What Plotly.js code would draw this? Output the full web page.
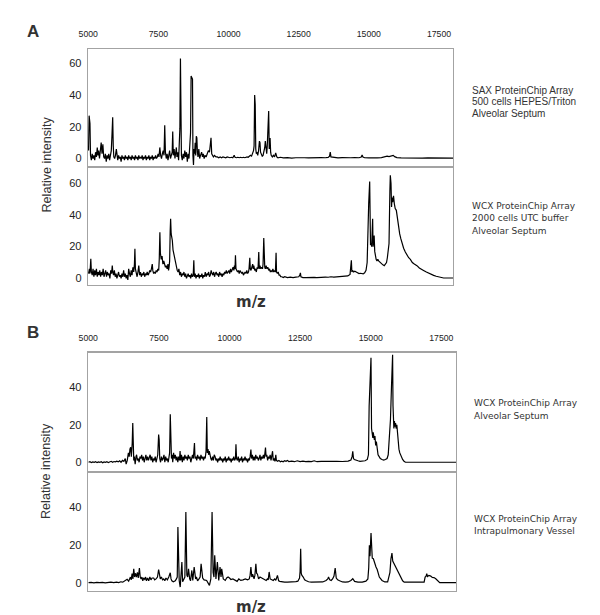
<!DOCTYPE html>
<html>
<head>
<meta charset="utf-8">
<script src="https://cdn.plot.ly/plotly-3.0.1.min.js"></script>
<style>
html,body{margin:0;padding:0;background:#fff;}
#chart{width:600px;height:615px;}
</style>
</head>
<body>
<div id="chart"></div>
<script>
// ---- tick labels ----
const mzTicks = [5000, 7500, 10000, 12500, 15000, 17500];
const intTicksA = [0, 20, 40, 60];
const intTicksB = [0, 20, 40];

// ---- Panel A, SAX ProteinChip Array (500 cells HEPES/Triton, Alveolar Septum) ----
const a1Mz = [
 5010,5030,5060,5080,5110,5140,5170,5200,5230,5260,
 5290,5320,5345,5370,5400,5430,5460,5490,5520,5550,
 5580,5610,5640,5670,5700,5730,5760,5790,5820,5845,
 5870,5890,5910,5940,5970,6000,6020,6050,6080,6110,
 6140,6170,6200,6230,6260,6290,6320,6350,6380,6410,
 6440,6470,6500,6530,6560,6590,6620,6650,6680,6710,
 6740,6770,6800,6830,6860,6890,6920,6950,6980,7010,
 7040,7070,7100,7130,7160,7190,7220,7250,7280,7310,
 7340,7370,7400,7430,7460,7490,7520,7550,7580,7610,
 7640,7670,7700,7725,7750,7780,7810,7840,7870,7900,
 7930,7960,7990,8010,8030,8060,8090,8110,8140,8160,
 8190,8220,8250,8265,8285,8300,8320,8350,8380,8410,
 8440,8470,8500,8530,8560,8590,8620,8645,8665,8690,
 8715,8730,8750,8770,8790,8810,8830,8850,8870,8890,
 8910,8940,8970,9000,9040,9070,9100,9130,9160,9200,
 9240,9280,9320,9350,9375,9400,9430,9460,9500,9550,
 9600,9650,9700,9750,9800,9850,9900,9950,10000,10050,
 10100,10150,10200,10230,10280,10330,10380,10430,10480,10530,
 10580,10620,10660,10700,10740,10780,10820,10860,10890,10910,
 10930,10950,10970,10990,11010,11040,11070,11100,11120,11140,
 11170,11200,11230,11260,11290,11310,11330,11360,11380,11400,
 11430,11450,11480,11500,11520,11560,11600,11640,11680,11720,
 11760,11850,11950,12100,12250,12400,12550,12700,12850,13000,
 13150,13300,13450,13550,13600,13625,13650,13750,13900,14050,
 14200,14350,14500,14650,14730,14760,14790,14850,15000,15150,
 15300,15450,15550,15650,15720,15800,15870,15920,16000,16150,
 16300,16500,16700,16900,17100,17300,17500,17700,17900,18050
];
const a1Int = [
 5,27,22,2,-1,3,0,2,-1,4,
 1,7,2,5,0,8,10,3,9,1,
 0,3,-2,2,0,3,-1,2,5,15,
 26,8,1,0,2,6,1,-1,2,0,
 1,-2,2,0,1,-1,2,0,1,-1,
 2,0,1,-1,2,0,1,-1,2,0,
 1,-1,2,0,1,0,2,-1,1,0,
 2,-1,1,0,2,-1,1,0,2,-1,
 1,0,2,0,1,3,1,7,2,0,
 3,5,2,21,4,0,3,-1,2,5,
 0,2,4,17,2,6,0,3,7,1,
 4,-1,8,19,63,5,2,-1,3,0,
 5,1,4,-2,3,0,7,16,52,50,
 50,2,-4,6,3,10,2,14,13,4,
 1,6,0,2,4,1,3,0,2,1,
 3,5,4,8,13,3,2,1,2,1,
 1,0.5,1,0.5,1,0.5,0.5,1,0.5,0.5,
 0.8,0.5,2,0.8,0.5,0.8,0.5,0.8,0.5,0.8,
 0.5,0.8,1,0.8,1.5,2,1.5,3,5,8,
 40,34,6,3,4,2,5,11,10,4,
 2,1.5,2,4,7,11,5,3,8,14,
 30,6,13,4,2,1,2,1,3.5,1,
 0.5,0.8,0.4,0.6,0.3,0.5,0.3,0.5,0.4,0.6,
 0.4,0.6,0.5,0.7,1.5,4,1,0.6,0.4,0.6,
 0.4,0.5,0.6,0.5,1,2.2,1,0.5,0.4,0.3,
 0.4,0.6,1,1.5,1.2,1.4,2,1.2,0.6,0.4,
 0.3,0.4,0.3,0.3,0.4,0.3,0.3,0.3,0.3,0.3
];

// ---- Panel A, WCX ProteinChip Array (2000 cells UTC buffer, Alveolar Septum) ----
const a2Mz = [
 5010,5040,5060,5090,5110,5140,5170,5200,5230,5260,
 5290,5320,5350,5380,5410,5440,5470,5500,5530,5560,
 5590,5620,5650,5680,5710,5740,5770,5800,5830,5855,
 5875,5900,5930,5960,5990,6020,6050,6080,6110,6140,
 6170,6200,6230,6260,6290,6320,6350,6380,6410,6440,
 6470,6500,6530,6560,6590,6620,6645,6662,6680,6710,
 6740,6770,6800,6830,6860,6890,6920,6950,6980,7010,
 7040,7070,7100,7130,7160,7190,7220,7250,7280,7300,
 7330,7360,7390,7420,7450,7480,7510,7530,7552,7570,
 7600,7630,7660,7690,7720,7750,7780,7810,7840,7860,
 7880,7900,7920,7935,7955,7975,7995,8020,8050,8080,
 8110,8140,8170,8200,8230,8260,8290,8320,8350,8380,
 8410,8440,8470,8500,8530,8560,8590,8620,8650,8680,
 8710,8740,8762,8780,8810,8840,8870,8900,8930,8960,
 8990,9020,9050,9080,9110,9140,9170,9200,9230,9260,
 9290,9320,9350,9380,9410,9440,9470,9500,9530,9560,
 9590,9620,9650,9680,9710,9740,9770,9800,9830,9860,
 9890,9920,9950,9980,10010,10040,10070,10100,10130,10160,
 10190,10210,10230,10246,10265,10290,10320,10350,10380,10410,
 10440,10470,10500,10530,10560,10590,10620,10650,10680,10710,
 10730,10757,10775,10800,10830,10860,10880,10900,10930,10960,
 10990,11020,11050,11077,11095,11120,11150,11180,11210,11230,
 11255,11270,11290,11310,11340,11370,11400,11430,11460,11490,
 11520,11550,11580,11610,11640,11670,11694,11710,11740,11770,
 11800,11830,11860,11900,11950,12000,12100,12200,12300,12400,
 12500,12540,12561,12580,12650,12750,12850,12950,13050,13150,
 13250,13350,13450,13550,13650,13750,13850,13950,14050,14150,
 14250,14330,14360,14377,14395,14420,14460,14500,14550,14600,
 14650,14700,14750,14800,14850,14900,14940,14975,14995,15030,
 15045,15060,15080,15100,15120,15136,15150,15170,15190,15210,
 15230,15260,15290,15320,15350,15400,15450,15500,15550,15590,
 15630,15660,15690,15720,15750,15766,15790,15810,15825,15850,
 15880,15910,15940,15980,16020,16060,16100,16140,16182,16240,
 16300,16360,16420,16480,16550,16620,16715,16800,16880,16950,
 17050,17150,17250,17310,17400,17500,17600,17665,17800,18050
];
const a2Int = [
 3,6,3,12.4,4,2,6,1,5,2,
 6,1,4,2,5,1,4,2,6,1,
 3,5,1,4,2,3,0,5,3,8,
 4,2,5,1,3,0,2,4,1,2,
 0,3,1,5,1,3,0,2,-1,6,
 3,1,5,2,7,4,9,18.7,6,3,
 1,4,8,2,4,1,3,2,4,1,
 3,2,4,2,3,5,4,6,9,5,
 3,4,3,5,4,6,5,12,29,16,
 12,14,9,11,8,7,8,6,9,5,
 7,11,30,37.6,28,26,24,18,15,12,
 9,7,5,4,6,2,4,1,3,2,
 4,1,3,0,2,3,1,2,0,3,
 1,2,11.4,1,3,0,2,1,3,0,
 2,1,3,0,2,1,4,1,3,2,
 4,1,2,5,3,2,4,1,3,4,
 2,3,1,4,2,3,1,3,2,4,
 3,5,3,4,5,3,6,4,5,7,
 5,8,6,14.5,6,5,4,5,3,5,
 4,3,4,2,3,4,3,5,3,4,
 6,13,6,5,7,9,6,8,5,6,
 4,7,6,16.6,6,8,6,7,6,9,
 25.4,8,7,6,8,6,7,5,6,4,
 5,4,6,4,5,4,16.2,4,3,4,
 2,2,1,1,0.5,1,0.5,0.8,0.5,0.8,
 1,2,3.5,1,0.5,0.4,0.6,0.5,0.6,0.5,
 0.7,0.6,0.8,0.7,1,0.8,1,1.2,1,1.3,
 1.5,2.5,8,11.4,4,5,4,4.5,4,3.5,
 3,3.2,3,2.8,3.5,5,10,42,47,61,
 25,21,22,20,30,37.6,20,26,27,17,
 14,12,11,12,11,10,9,8.5,8,9,
 10,13,18,22,55,65,60,45,51,48,
 52,47,44,42.9,37,32,28,25,22,19,
 16.6,14.5,13,12,10,9,8,6.5,5.5,5,
 4,3,2.3,1.9,1.3,0.8,0.5,0.2,0.2,0.2
];

// ---- Panel B, WCX ProteinChip Array, Alveolar Septum ----
const b1Mz = [
 5010,5060,5110,5160,5210,5260,5310,5360,5410,5460,
 5510,5560,5610,5660,5710,5760,5810,5860,5910,5960,
 6010,6060,6110,6160,6210,6260,6310,6340,6380,6420,
 6450,6475,6500,6525,6555,6575,6590,6610,6630,6660,
 6690,6710,6740,6770,6800,6830,6860,6890,6920,6950,
 6980,7010,7040,7070,7100,7130,7160,7190,7220,7250,
 7280,7310,7340,7370,7400,7430,7460,7491,7510,7530,
 7560,7590,7620,7650,7680,7710,7740,7770,7800,7830,
 7860,7880,7903,7925,7945,7970,7990,8020,8050,8080,
 8110,8140,8170,8200,8230,8250,8270,8300,8330,8360,
 8390,8420,8450,8480,8510,8540,8570,8600,8630,8660,
 8690,8720,8760,8780,8810,8840,8870,8900,8930,8960,
 8990,9020,9050,9080,9110,9140,9170,9195,9215,9240,
 9260,9285,9310,9340,9370,9400,9430,9460,9490,9520,
 9550,9580,9610,9640,9670,9700,9730,9760,9790,9820,
 9850,9880,9910,9940,9970,10000,10030,10060,10090,10120,
 10150,10180,10210,10229,10250,10280,10310,10340,10370,10400,
 10430,10460,10490,10520,10550,10580,10610,10640,10670,10700,
 10730,10758,10780,10810,10840,10870,10900,10930,10960,10990,
 11020,11050,11080,11110,11140,11170,11200,11230,11255,11275,
 11295,11320,11350,11380,11410,11440,11470,11500,11525,11550,
 11580,11610,11640,11660,11700,11750,11800,11850,11900,11950,
 12000,12050,12100,12200,12300,12400,12500,12600,12700,12800,
 12900,13000,13100,13250,13400,13600,13800,14000,14200,14300,
 14340,14365,14390,14420,14480,14550,14620,14700,14800,14880,
 14920,14945,14965,14985,15010,15030,15045,15060,15075,15090,
 15110,15130,15150,15175,15200,15230,15260,15300,15340,15400,
 15460,15520,15580,15620,15660,15700,15735,15775,15790,15805,
 15820,15840,15860,15880,15900,15925,15950,15975,16000,16030,
 16080,16130,16180,16230,16400,16700,17000,17300,17700,18050
];
const b1Int = [
 0,0.3,-0.2,0.2,0,0.3,-0.2,0.2,0,0.3,
 -0.3,0.2,0,0.3,-0.2,0.1,0.5,0,0.4,0.2,
 0.6,0.2,0.8,0,1,0.5,2,-1,1,5,
 3,7,8,3,10,21,5,1,3,-1,
 3,4,1,2,0,3,2,4,1,3,
 0,2,4,1,3,1,3,4,1,3,
 0,2,1,3,0,2,4,14.8,12,2,
 0,3,1,2,4,0,3,1,2,0,
 3,5,25.6,14,2,4,0,5,2,4,
 1,3,0,3,1,6,1,4,0,3,
 1,4,2,3,1,4,2,3,0,2,
 4,2,10.3,2,3,1,4,2,3,1,
 4,2,3,1,3,2,6,24.2,5,7,
 4,6,3,2,1,3,1,4,3,1,
 2,0,2,1,3,1,2,0,2,1,
 3,0,2,1,3,1,2,0,2,1,
 3,1,2,9.6,2,1,3,0,2,1,
 3,0,2,1,3,1,2,0,2,1,
 3,6.8,2,4,1,3,1,4,2,3,
 1,2,4,1,3,2,4,2,5,7.8,
 3,4,1,3,2,4,1,3,5.9,1,
 2,0.5,4,1,0.5,1,0.3,0.6,0.3,0.8,
 0.5,1,0.4,0.6,0.3,0.8,0.4,0.6,0.3,0.5,
 0.4,0.8,0.3,0.5,0.4,0.6,0.5,0.4,0.6,1.2,
 3,5.9,2,1.5,1,0.8,0.5,0.5,0.8,1.5,
 4,30,40,48,55.8,18,15,17,13,16,
 14,12,14,9,11,6,4,3,2,1.5,
 1.2,1.5,2,4,12,23,40,57.4,30,21,
 18,22,19,21,18,20,14,10,7,5,
 3,1.5,0.5,0,0,0,0,0,0,0
];

// ---- Panel B, WCX ProteinChip Array, Intrapulmonary Vessel ----
const b2Mz = [
 5010,5100,5200,5300,5400,5500,5600,5700,5800,5900,
 6000,6080,6150,6220,6300,6375,6430,6492,6520,6551,
 6580,6610,6640,6670,6704,6740,6770,6810,6840,6870,
 6900,6930,6960,7000,7030,7060,7100,7140,7180,7220,
 7260,7315,7350,7400,7450,7491,7520,7550,7590,7630,
 7670,7710,7750,7800,7850,7903,7930,7960,8010,8080,
 8120,8150,8173,8195,8220,8255,8280,8314,8340,8380,
 8420,8455,8490,8520,8549,8590,8620,8666,8700,8749,
 8800,8830,8870,8920,8960,8995,9050,9100,9190,9290,
 9340,9383,9420,9450,9477,9520,9571,9620,9665,9700,
 9724,9780,9850,9900,9950,10000,10050,10120,10200,10270,
 10330,10400,10480,10560,10640,10700,10730,10758,10790,10820,
 10870,10900,10934,10960,10990,11030,11080,11150,11220,11300,
 11340,11370,11404,11440,11480,11550,11600,11640,11698,11740,
 11780,11850,11950,12050,12150,12250,12350,12420,12480,12500,
 12520,12540,12560,12610,12660,12720,12800,12900,13000,13100,
 13200,13300,13420,13480,13507,13550,13600,13650,13700,13742,
 13780,13830,13900,14000,14100,14200,14300,14365,14430,14550,
 14700,14830,14900,14930,14953,14975,15011,15030,15055,15094,
 15120,15140,15187,15230,15270,15305,15400,15500,15600,15681,
 15716,15752,15780,15834,15890,15951,16000,16069,16130,16186,
 16300,16450,16600,16750,16891,16927,16960,16985,17010,17060,
 17126,17180,17240,17303,17370,17444,17600,17800,17950,18050
];
const b2Int = [
 0,0.2,-0.1,0.2,0,0.2,-0.1,0.1,0.3,0,
 0.3,0.1,0.5,0.3,1,1.8,0.8,3,1.5,4.8,
 2,7.4,3,5,3,5.5,2.5,7.8,3,2,
 3,1,2.5,1.8,3,1,2.5,1,3,1.5,
 2.5,2.5,1.5,2,3,7,4.5,2,3,1.5,
 2,1,2.5,1.5,3,5.3,2,1,0.5,1,
 2,3,29.5,2,1,-2.3,2,11,0.5,1.5,
 3,37.5,4,3,7.4,2,1,6.5,1.2,8.3,
 2,3,1,2,3,10,2.5,1.5,1.2,-1.4,
 2,37.5,5.5,3,14.5,2,11,1.2,8.3,3,
 7.4,2,1.2,2.5,3,2.5,1.7,2,1.2,0.7,
 2,1.2,1.5,2,1.5,2,4,8.3,3,4.5,
 2,4,10,5,4.5,2,3,2.5,1.7,1.2,
 2,1.5,5.7,2,1.7,1.2,2,1.3,3.9,1,
 0.7,0.4,0.3,0.3,0.3,0.4,0.6,0.8,2.5,6,
 18,5,4,3,1.5,1,0.5,0.3,0.3,0.1,
 0.2,0.4,1.2,2,3,1.5,1.2,2,3.5,7.8,
 2.5,1.5,1,0.4,0.3,0.4,1.2,2.1,0.7,0.3,
 0.3,0.8,2,8,19.8,14,26.3,18,13,12.7,
 11,10,8.3,7,4,3,1.2,0.4,0.4,5.5,
 12.7,15.7,11.5,10,8.3,6.5,4.8,3,1,0.3,
 0.3,0.3,0.3,0.3,0.3,3,3.5,4.8,3.3,3.8,
 3.5,2.8,2.7,2.1,1,0,0,0,0,0
];

// ---- text ----
const panelLabels = ['A', 'B'];
const yTitle = 'Relative intensity';
const xTitle = 'm/z';
const sideA1 = ['SAX ProteinChip Array', '500 cells HEPES/Triton', 'Alveolar Septum'];
const sideA2 = ['WCX ProteinChip Array', '2000 cells UTC buffer', 'Alveolar Septum'];
const sideB1 = ['WCX ProteinChip Array', 'Alveolar Septum'];
const sideB2 = ['WCX ProteinChip Array', 'Intrapulmonary Vessel'];

// ---- build ----
const W = 600, H = 615;
const px = v => v / W;
const py = v => 1 - v / H;
const lineStyle = {color: '#000', width: 1.2};
const traces = [
  {x: a1Mz, y: a1Int, xaxis: 'x', yaxis: 'y'},
  {x: a2Mz, y: a2Int, xaxis: 'x2', yaxis: 'y2'},
  {x: b1Mz, y: b1Int, xaxis: 'x3', yaxis: 'y3'},
  {x: b2Mz, y: b2Int, xaxis: 'x4', yaxis: 'y4'}
].map(t => Object.assign(t, {type: 'scatter', mode: 'lines', line: lineStyle, hoverinfo: 'skip', showlegend: false}));

const frame = {showline: true, mirror: true, linecolor: '#a3a3a3', linewidth: 1.3,
  showgrid: false, zeroline: false, ticks: '', fixedrange: true};
const tickFontTop = {family: 'Liberation Sans, Arial, sans-serif', size: 8.7, color: '#222'};
const tickFontY = {family: 'Liberation Sans, Arial, sans-serif', size: 11, color: '#222'};

function xa(dom, rng, top, anchor) {
  return Object.assign({}, frame, {domain: dom, range: rng, anchor: anchor,
    side: 'top', tickvals: mzTicks, ticktext: mzTicks.map(String),
    showticklabels: top, tickfont: tickFontTop, ticklabelstandoff: 7});
}
function ya(dom, rng, tv, anchor) {
  return Object.assign({}, frame, {domain: dom, range: rng, anchor: anchor,
    tickvals: tv, ticktext: tv.map(String), tickfont: tickFontY, ticklabelstandoff: 3});
}

const xDomA = [px(88), px(453)];
const xDomB = [px(88), px(456)];

const annotations = [];
function txt(text, x, y, font, extra) {
  annotations.push(Object.assign({text: text, x: px(x), y: py(y), xref: 'paper', yref: 'paper',
    xanchor: 'left', yanchor: 'middle', showarrow: false, font: font}, extra || {}));
}
const fArial = {family: 'Liberation Sans, Arial, sans-serif', size: 10, color: '#333'};
const fVerd = {family: 'DejaVu Sans, Verdana, sans-serif', size: 9, color: '#333'};
sideA1.forEach((s, i) => txt(s, 470, 90 + i * 11.7, fArial));
sideA2.forEach((s, i) => txt(s, 470, 205.7 + i * 12.5, fVerd));
sideB1.forEach((s, i) => txt(s, 471.5, 403.3 + i * 12.7, fVerd));
sideB2.forEach((s, i) => txt(s, 471.5, 519.3 + i * 12, fVerd));

const fPanel = {family: 'Liberation Sans, Arial, sans-serif', size: 17, color: '#333', weight: 'bold'};
txt('<b>' + panelLabels[0] + '</b>', 33, 32, fPanel, {xanchor: 'center'});
txt('<b>' + panelLabels[1] + '</b>', 33, 332, fPanel, {xanchor: 'center'});

const fY = {family: 'Liberation Sans, Arial, sans-serif', size: 12.6, color: '#333'};
txt(yTitle, 46, 164.5, fY, {xanchor: 'center', textangle: -90});
txt(yTitle, 46, 471, fY, {xanchor: 'center', textangle: -90});

const fX = {family: 'DejaVu Sans, Verdana, sans-serif', size: 15, color: '#333'};
txt('<b>' + xTitle + '</b>', 251, 302, fX, {xanchor: 'center'});
txt('<b>' + xTitle + '</b>', 251, 606.5, fX, {xanchor: 'center'});

const layout = {
  width: W, height: H,
  margin: {l: 0, r: 0, t: 0, b: 0},
  paper_bgcolor: '#fff', plot_bgcolor: '#fff',
  showlegend: false,
  xaxis:  xa(xDomA, [4990, 18000], true, 'y'),
  xaxis2: xa(xDomA, [4990, 18000], false, 'y2'),
  xaxis3: xa(xDomB, [4990, 18020], true, 'y3'),
  xaxis4: xa(xDomB, [4990, 18020], false, 'y4'),
  yaxis:  ya([py(166), py(49)], [-4.7, 69], intTicksA, 'x'),
  yaxis2: ya([py(285), py(168)], [-4.2, 69.6], intTicksA, 'x2'),
  yaxis3: ya([py(470.7), py(352.7)], [-4.5, 58.5], intTicksB, 'x3'),
  yaxis4: ya([py(591), py(473.3)], [-4.4, 58], intTicksB, 'x4'),
  annotations: annotations
};

Plotly.newPlot('chart', traces, layout, {displayModeBar: false, staticPlot: true});
</script>
</body>
</html>
